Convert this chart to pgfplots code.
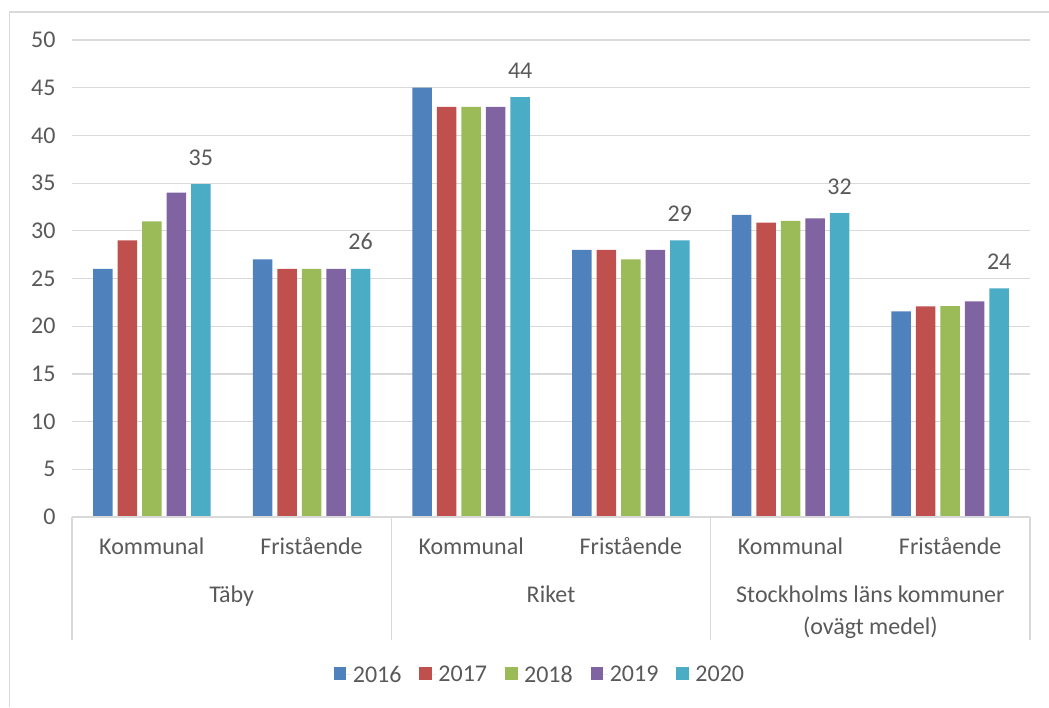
\documentclass[border=0pt]{standalone}
\usepackage{fontspec}
\setmainfont{Carlito}
\usepackage{pgfplots}
\pgfplotsset{compat=1.18}
\definecolor{c16}{HTML}{4F81BD}
\definecolor{c17}{HTML}{C0504D}
\definecolor{c18}{HTML}{9BBB59}
\definecolor{c19}{HTML}{8064A2}
\definecolor{c20}{HTML}{4BACC6}
\definecolor{txt}{HTML}{595959}
\definecolor{gridc}{HTML}{D9D9D9}
\begin{document}
\begin{tikzpicture}[font=\fontsize{24}{29}\selectfont, text=txt]
\useasboundingbox (-72pt,-190pt) rectangle (977pt,517pt);
\draw[gridc, line width=1.2pt] (-62.5pt,-190pt) -- (-62.5pt,505pt) -- (977pt,505pt);
\begin{axis}[
  at={(0pt,0pt)}, anchor=south west,
  scale only axis, width=958pt, height=477pt,
  xmin=-0.5, xmax=5.5, ymin=0, ymax=50,
  ytick={0,5,...,50},
  xtick={0,1,2,3,4,5},
  xticklabels={Kommunal,Fristående,Kommunal,Fristående,Kommunal,Fristående},
  major tick length=0pt,
  axis line style={draw=none},
  ymajorgrids, grid style={gridc, line width=1.2pt},
  /pgf/number format/assume math mode=true,
  tick label style={text=txt, font=\fontsize{24}{29}\selectfont},
  yticklabel style={xshift=-13pt},
  xticklabel style={anchor=base, yshift=-37pt},
  ybar, bar width=19.5pt,
  clip=false,
  legend columns=5,
  legend style={draw=none, fill=none, at={(0.4885,-0.331)}, anchor=center,
    font=\fontsize{24}{29}\selectfont, text=txt,
    /tikz/every even column/.append style={column sep=16pt},
    /tikz/every odd column/.append style={column sep=0pt}},
  legend image code/.code={\fill[#1] (0pt,-5pt) rectangle (12.5pt,7.5pt);
     \path (0pt,0pt) -- (17pt,0pt);},
  every axis plot/.append style={draw=none},
]
\addplot[fill=c16, bar shift=-49pt] coordinates {(0,26) (1,27) (2,45) (3,28) (4,31.66) (5,21.56)};
\addplot[fill=c17, bar shift=-24.5pt] coordinates {(0,29) (1,26) (2,43) (3,28) (4,30.85) (5,22.09)};
\addplot[fill=c18, bar shift=0pt] coordinates {(0,31) (1,26) (2,43) (3,27) (4,31.03) (5,22.1)};
\addplot[fill=c19, bar shift=24.5pt] coordinates {(0,34) (1,26) (2,43) (3,28) (4,31.3) (5,22.6)};
\addplot[fill=c20, bar shift=49pt,
  nodes near coords, point meta=explicit symbolic,
  nodes near coords style={anchor=base, yshift=19pt, text=txt, font=\fontsize{24}{29}\selectfont}]
  coordinates {(0,34.9)[35] (1,26)[26] (2,44)[44] (3,29)[29] (4,31.85)[32] (5,23.97)[24]};
\legend{2016,2017,2018,2019,2020}
\draw[gridc, line width=1.2pt] (axis cs:-0.5,0) -- (axis cs:5.5,0);
\draw[gridc, line width=1.2pt] (axis cs:-0.5,0) -- ([yshift=-123pt]axis cs:-0.5,0);
\draw[gridc, line width=1.2pt] (axis cs:1.5,0) -- ([yshift=-123pt]axis cs:1.5,0);
\draw[gridc, line width=1.2pt] (axis cs:3.5,0) -- ([yshift=-123pt]axis cs:3.5,0);
\draw[gridc, line width=1.2pt] (axis cs:5.5,0) -- ([yshift=-123pt]axis cs:5.5,0);
\node[anchor=base] at ([yshift=-85pt]axis cs:0.5,0) {Täby};
\node[anchor=base] at ([yshift=-85pt]axis cs:2.5,0) {Riket};
\node[anchor=base] at ([yshift=-85pt]axis cs:4.5,0) {Stockholms läns kommuner};
\node[anchor=base] at ([yshift=-117pt]axis cs:4.5,0) {(ovägt medel)};
\end{axis}
\end{tikzpicture}
\end{document}
